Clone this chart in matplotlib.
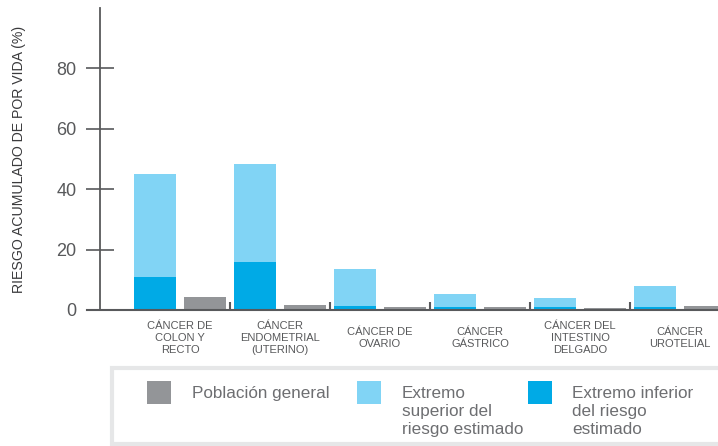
import matplotlib
matplotlib.use("Agg")
import matplotlib.pyplot as plt
import numpy as np
from matplotlib.patches import Rectangle

plt.rcParams['font.family'] = ['Liberation Sans', 'DejaVu Sans']

categories = ["CÁNCER DE\nCOLON Y\nRECTO", "CÁNCER\nENDOMETRIAL\n(UTERINO)", "CÁNCER DE\nOVARIO",
              "CÁNCER\nGÁSTRICO", "CÁNCER DEL\nINTESTINO\nDELGADO", "CÁNCER\nUROTELIAL"]
upper_risk = [45.0, 48.5, 13.5, 5.4, 4.1, 8.1]
lower_risk = [10.8, 16.0, 1.2, 1.1, 1.1, 1.1]
general_pop = [4.2, 1.8, 1.1, 1.1, 0.8, 1.4]
series_names = ["Población general", "Extremo\nsuperior del\nriesgo estimado", "Extremo inferior\ndel riesgo\nestimado"]
yticks = [0, 20, 40, 60, 80]

c_grey = '#939598'
c_light = '#81D4F5'
c_dark = '#00AAE6'
c_axis = '#58595b'
c_text = '#6d6e71'

W, H = 718, 446
fig = plt.figure(figsize=(W / 100, H / 100), dpi=100)
ax = fig.add_axes([100 / W, 136 / H, 618 / W, 302 / H])

x = np.arange(len(categories))
bw = 0.42
ax.bar(x - 0.25, upper_risk, width=bw, color=c_light, linewidth=0)
ax.bar(x - 0.25, lower_risk, width=bw, color=c_dark, linewidth=0)
ax.bar(x + 0.245, general_pop, width=bw, color=c_grey, linewidth=0)

ax.set_xlim(-0.8, 5.38)
ax.set_ylim(0, 100)

for s in ['top', 'right', 'bottom']:
    ax.spines[s].set_visible(False)
ax.spines['left'].set_color(c_axis)
ax.spines['left'].set_linewidth(1.3)

ax.plot([-13 / 618, 1], [0, 0], transform=ax.transAxes, color=c_axis, lw=1.5, clip_on=False, zorder=5)
ax.vlines(x[:-1] + 0.5, 0, 2.8, colors=c_axis, lw=1.5, zorder=5)

ax.set_xticks([])
ax.set_yticks(yticks)
ax.set_yticklabels([str(v) for v in yticks])
ax.tick_params(axis='y', direction='inout', length=20, width=1.2, color=c_axis,
               labelsize=13, labelcolor=c_axis, pad=7)

ax.set_ylabel("RIESGO ACUMULADO DE POR VIDA (%)", fontsize=10.2, color='#3a3a3c')
ax.yaxis.set_label_coords(-74 / 618, 0.5)

tr = ax.get_xaxis_transform()
for i, lab in enumerate(categories):
    ax.text(i, -28 / 302, lab, transform=tr, ha='center', va='center', fontsize=8,
            color=c_axis, multialignment='center', linespacing=1.2)

# legend box
def px(xp, yp):
    return xp / W, 1 - yp / H

fig.patches.append(Rectangle(px(112, 444), (612) / W, 76 / H, transform=fig.transFigure,
                             facecolor='white', edgecolor='#e6e7e8', linewidth=3, clip_on=False))
colors = [c_grey, c_light, c_dark]
sq_x = [147, 357, 528]
tx_x = [192, 402, 572]
for c, sx, tx, name in zip(colors, sq_x, tx_x, series_names):
    fig.patches.append(Rectangle(px(sx, 404), 24 / W, 23 / H, transform=fig.transFigure,
                                 facecolor=c, edgecolor='none'))
    fx, fy = px(tx, 386)
    fig.text(fx, fy, name, ha='left', va='top', fontsize=12.3, color=c_text, linespacing=1.23)

fig.savefig('out.png', dpi=100)
